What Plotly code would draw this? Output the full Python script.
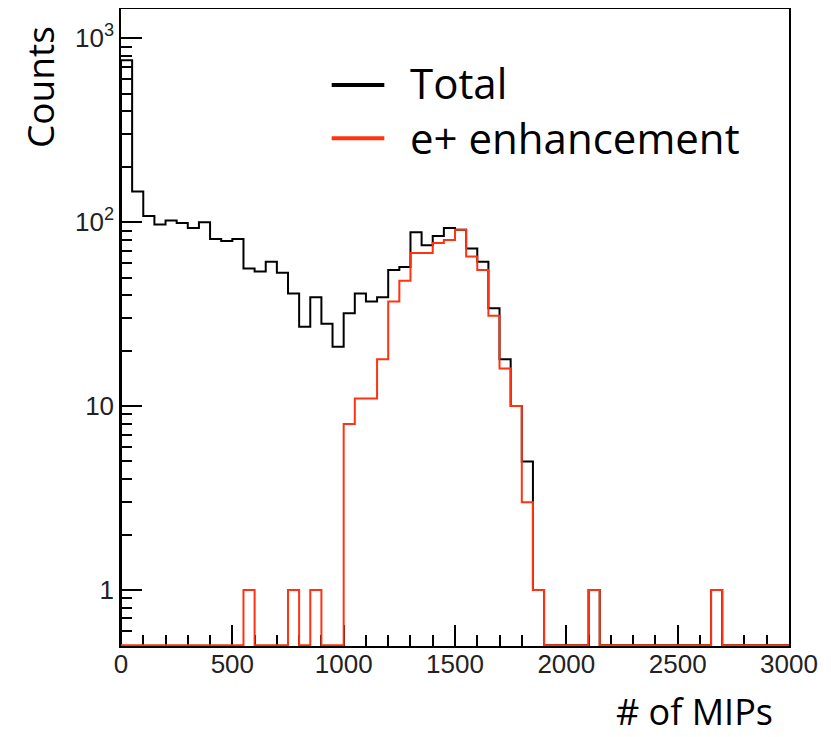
import plotly.graph_objects as go

# ---- data: 60 bins of width 50 over [0, 3000] ----
bin_width = 50
n_bins = 60
total_counts = [760, 147, 108, 97, 102, 99, 93, 100, 81, 79,
                81, 56, 54, 61, 53, 41, 27, 39, 28, 21,
                32, 41, 37, 39, 55, 57, 88, 75, 84, 93,
                91, 72, 61, 34, 18, 10, 5, 1, 0, 0,
                0, 0, 1, 0, 0, 0, 0, 0, 0, 0,
                0, 0, 0, 1, 0, 0, 0, 0, 0, 0]
eplus_counts = [0, 0, 0, 0, 0, 0, 0, 0, 0, 0,
                0, 1, 0, 0, 0, 1, 0, 1, 0, 0,
                8, 11, 11, 18, 37, 48, 68, 68, 77, 80,
                91, 65, 55, 31, 16, 10, 3, 1, 0, 0,
                0, 0, 1, 0, 0, 0, 0, 0, 0, 0,
                0, 0, 0, 1, 0, 0, 0, 0, 0, 0]
series_names = ["Total", "e+ enhancement"]
x_tick_vals = [0, 500, 1000, 1500, 2000, 2500, 3000]
y_tick_vals = [1, 10, 100, 1000]
y_tick_text = ["1", "10", "10<sup>2</sup>", "10<sup>3</sup>"]
y_minor_vals = [0.6, 0.7, 0.8, 0.9, 2, 3, 4, 5, 6, 7, 8, 9,
                20, 30, 40, 50, 60, 70, 80, 90, 200, 300, 400, 500, 600, 700, 800, 900]

log_lo, log_hi = -0.3045, 3.159
floor_val = 10 ** (log_lo + 0.004)

BLACK = "#000000"
RED = "#ff3311"


def step_xy(counts):
    edges = [i * bin_width for i in range(n_bins + 1)]
    vals = [c if c > 0 else floor_val for c in counts]
    xs = [edges[0]] + edges[:-1] + [edges[-1]]
    ys = [floor_val] + vals + [floor_val]
    return xs, ys


fig = go.Figure()
for counts, name, col in [(total_counts, series_names[0], BLACK),
                          (eplus_counts, series_names[1], RED)]:
    xs, ys = step_xy(counts)
    fig.add_trace(go.Scatter(x=xs, y=ys, mode="lines", name=name,
                             line=dict(color=col, width=2, shape="hv"),
                             showlegend=False, hoverinfo="skip"))

tick_font = dict(family="Liberation Sans, Arial, sans-serif", size=26, color="#222222")

fig.update_layout(
    width=823, height=729,
    margin=dict(l=113, r=42, t=1, b=91),
    paper_bgcolor="white", plot_bgcolor="white",
    showlegend=False,
    xaxis=dict(range=[0, 3000], showgrid=False, zeroline=False, automargin=False,
               showline=True, linecolor="black", linewidth=1.5, mirror=True,
               ticks="inside", ticklen=21, tickwidth=1.5, tickcolor="black",
               tickvals=x_tick_vals, tickfont=tick_font, ticklabelstandoff=-6,
               minor=dict(ticks="inside", ticklen=11, tickwidth=1.5, tickcolor="black", dtick=100),
               layer="below traces"),
    yaxis=dict(type="log", range=[log_lo, log_hi], showgrid=False, zeroline=False, automargin=False,
               showline=True, linecolor="black", linewidth=1.5, mirror=True,
               ticks="inside", ticklen=21, tickwidth=1.5, tickcolor="black",
               tickvals=y_tick_vals, ticktext=y_tick_text, tickfont=tick_font,
               minor=dict(ticks="inside", ticklen=11, tickwidth=1.5, tickcolor="black",
                          tickvals=y_minor_vals),
               layer="below traces"),
)

# legend (drawn manually to match the ROOT TLegend layout)
legend_font = dict(family="Open Sans, Noto Sans, sans-serif", size=42, color="black")
for name, col, ly, ty in [(series_names[0], BLACK, 0.8807, 0.8843),
                          (series_names[1], RED, 0.797, 0.7983)]:
    fig.add_shape(type="line", xref="paper", yref="paper", x0=0.3154, x1=0.3942, y0=ly, y1=ly,
                  line=dict(color=col, width=4))
    fig.add_annotation(text=name, xref="paper", yref="paper", x=0.4307, y=ty,
                       xanchor="left", yanchor="middle", showarrow=False, font=legend_font,
                       borderpad=0)

title_font = dict(family="Open Sans, Noto Sans, sans-serif", size=37, color="black")
fig.add_annotation(text="Counts", xref="paper", yref="paper", x=-0.1213, y=0.8776,
                   textangle=-90, showarrow=False, font=title_font,
                   xanchor="center", yanchor="middle")
fig.add_annotation(text="# of MIPs", xref="paper", yref="paper", x=0.8578, y=-0.1036,
                   showarrow=False, font=dict(title_font, size=36), borderpad=0,
                   xanchor="center", yanchor="middle")

fig.write_html("out.html")
